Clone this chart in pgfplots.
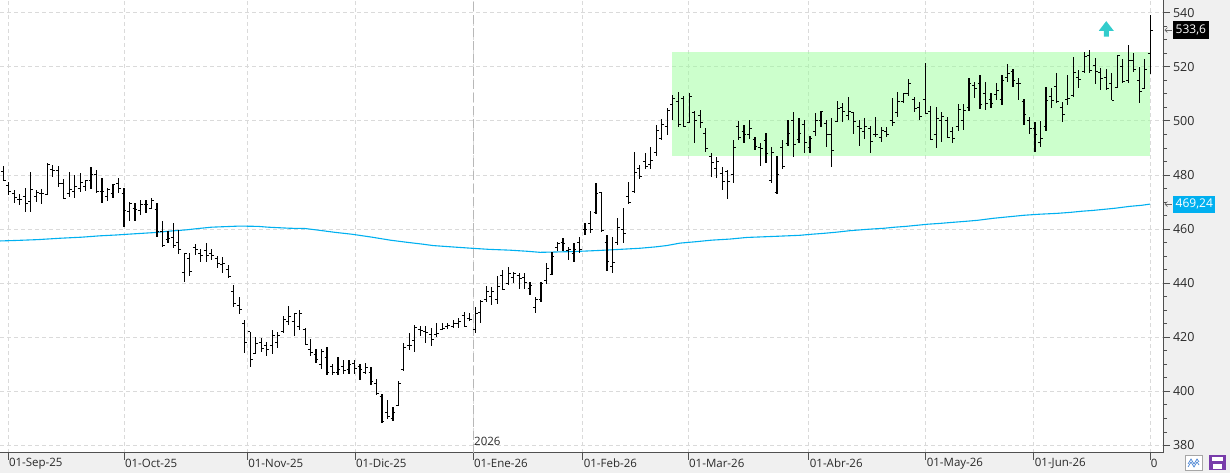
\documentclass[border=0pt]{standalone}
\usepackage{pgfplots}
\pgfplotsset{compat=1.18}
\usepackage{pgfplotstable}
\usepackage{fontspec}
\setmainfont{Open Sans}
\usetikzlibrary{arrows.meta}

\definecolor{macol}{HTML}{00B0F0}
\definecolor{rectg}{RGB}{153,255,153}
\definecolor{arrowcol}{HTML}{33CCCC}
\definecolor{panel}{HTML}{F0F0F0}
\definecolor{gridc}{HTML}{DADADA}
\definecolor{axc}{HTML}{505050}
\definecolor{txt}{HTML}{2A2A2A}

\pgfdeclareplotmark{ohlcC}{\pgfpathmoveto{\pgfqpoint{0pt}{0pt}}\pgfpathlineto{\pgfqpoint{2.4pt}{0pt}}\pgfusepathqstroke}
\pgfdeclareplotmark{ohlcO}{\pgfpathmoveto{\pgfqpoint{-2.4pt}{0pt}}\pgfpathlineto{\pgfqpoint{0pt}{0pt}}\pgfusepathqstroke}
\pgfdeclareplotmark{uparrow}{%
  \pgfpathmoveto{\pgfqpoint{-2.5pt}{-7.8pt}}%
  \pgfpathlineto{\pgfqpoint{2.5pt}{-7.8pt}}%
  \pgfpathlineto{\pgfqpoint{2.5pt}{-1.9pt}}%
  \pgfpathlineto{\pgfqpoint{7.5pt}{-1.9pt}}%
  \pgfpathlineto{\pgfqpoint{0pt}{7.8pt}}%
  \pgfpathlineto{\pgfqpoint{-7.5pt}{-1.9pt}}%
  \pgfpathlineto{\pgfqpoint{-2.5pt}{-1.9pt}}%
  \pgfpathclose\pgfusepathqfill}

\pgfplotstableread{
k o h l c
0 481.2 483.3 477.8 477.8
1 476.0 477.3 472.6 473.8
2 473.0 474.5 469.8 471.7
3 471.0 473.0 468.9 470.8
4 472.0 475.1 466.4 469.5
5 470.1 481.0 466.4 474.7
6 472.0 474.5 469.9 473.5
7 473.0 474.7 469.3 473.0
8 472.6 484.3 472.6 483.7
9 482.0 483.7 479.1 481.8
10 481.8 483.4 475.4 476.9
11 476.9 478.4 471.0 471.4
12 473.0 481.2 472.0 474.5
13 474.0 480.0 471.4 475.7
14 475.0 480.9 473.8 477.2
15 475.9 478.2 474.2 477.9
16 477.8 483.1 474.7 480.0
17 480.0 481.8 473.2 473.8
18 474.0 479.0 469.8 473.8
19 472.0 475.1 470.5 474.7
20 473.2 476.7 471.4 476.6
21 477.0 478.8 473.2 475.1
22 473.2 475.1 460.7 466.7
23 466.4 470.1 462.8 469.5
24 467.7 469.8 462.8 467.1
25 467.0 470.8 465.2 468.9
26 469.0 470.8 465.8 468.9
27 467.7 471.6 467.3 470.5
28 467.1 469.5 457.2 459.1
29 459.1 463.0 453.3 453.8
30 456.0 459.1 454.7 456.6
31 457.0 462.4 452.9 454.1
32 455.0 459.7 450.8 452.3
33 444.0 451.3 440.6 451.1
34 449.0 451.1 442.7 444.3
35 453.0 454.5 450.4 452.3
36 451.0 452.5 448.0 450.1
37 452.0 455.0 448.0 450.1
38 451.0 452.5 448.6 450.1
39 449.0 450.2 445.5 447.4
40 447.0 449.8 443.9 447.4
41 445.1 446.7 441.8 442.4
42 437.0 439.3 431.1 432.3
43 431.6 435.0 428.5 430.1
44 425.0 426.4 414.3 418.2
45 422.0 422.1 408.9 411.9
46 414.0 420.2 413.7 417.8
47 418.0 419.6 414.7 416.0
48 417.0 418.4 413.1 415.3
49 416.9 422.7 413.7 420.5
50 418.0 422.1 415.9 420.5
51 422.0 427.9 421.7 426.4
52 426.0 431.4 424.4 427.6
53 425.8 428.9 420.5 428.6
54 424.0 430.1 422.7 428.6
55 423.0 423.3 417.2 417.5
56 415.3 419.3 413.1 414.3
57 413.8 415.6 410.4 411.9
58 410.0 415.6 408.2 414.7
59 412.6 416.3 406.1 407.0
60 409.0 410.1 406.1 407.0
61 407.0 412.6 406.1 408.0
62 409.0 411.6 406.5 407.7
63 408.0 411.6 406.5 409.8
64 410.4 411.6 406.5 408.5
65 409.0 410.1 404.2 408.2
66 407.0 410.6 406.5 408.9
67 407.0 408.9 402.4 403.6
68 403.0 404.5 398.7 399.3
69 398.0 399.1 388.5 388.8
70 392.0 396.8 389.7 390.7
71 390.0 394.1 388.9 392.2
72 394.6 404.0 394.4 403.0
73 407.9 417.8 407.7 416.3
74 417.0 421.5 415.1 416.8
75 418.8 424.6 414.7 423.7
76 423.0 424.2 420.5 422.5
77 422.0 424.2 418.0 421.7
78 421.0 423.3 416.8 419.0
79 421.0 425.4 420.0 421.5
80 423.0 425.2 422.7 423.3
81 424.0 425.4 423.0 424.2
82 424.0 426.2 423.3 424.9
83 425.0 427.0 423.3 425.8
84 428.0 429.5 423.9 424.0
85 427.0 429.1 426.0 426.4
86 423.0 431.1 421.7 428.9
87 429.0 433.6 425.4 433.2
88 433.8 439.0 433.2 436.9
89 435.0 438.7 432.0 436.9
90 434.0 442.7 432.3 438.7
91 443.0 444.9 437.5 437.7
92 440.0 446.1 439.3 443.7
93 442.0 444.3 440.0 443.4
94 443.0 443.7 437.7 441.8
95 442.0 443.7 437.7 440.2
96 438.0 440.6 435.6 439.3
97 431.0 434.8 428.9 434.0
98 434.0 440.6 433.2 440.0
99 441.0 447.3 439.7 445.5
100 443.3 451.7 443.0 450.0
101 453.0 455.4 452.0 454.8
102 455.0 456.6 452.0 454.8
103 452.0 453.5 448.6 452.3
104 451.0 455.0 448.0 452.3
105 455.0 457.2 451.3 452.5
106 460.0 462.1 457.8 459.7
107 462.0 466.5 458.4 459.7
108 466.0 477.2 465.6 473.2
109 473.5 473.8 459.1 459.4
110 455.0 457.8 444.6 448.0
111 446.0 457.2 443.9 447.7
112 455.0 464.0 454.1 460.7
113 460.0 467.7 455.0 458.4
114 472.0 477.5 469.3 469.8
115 473.8 488.6 473.2 481.0
116 482.5 483.7 478.4 479.4
117 485.0 488.0 482.1 483.1
118 484.0 490.5 482.1 485.5
119 488.3 498.5 487.0 496.6
120 493.5 500.6 492.9 498.5
121 498.0 504.6 494.8 504.0
122 505.9 509.6 500.3 508.3
123 507.1 510.8 497.9 498.5
124 508.3 509.2 497.9 498.1
125 499.5 510.2 499.3 509.0
126 503.0 503.8 491.7 500.1
127 502.0 504.0 497.2 499.3
128 495.4 497.2 488.6 489.9
129 487.0 488.0 479.4 484.6
130 482.5 486.8 478.8 484.9
131 480.6 483.1 474.5 477.5
132 481.2 481.9 471.0 477.5
133 480.0 492.9 477.2 490.2
134 497.9 500.1 492.9 493.8
135 496.0 498.5 491.7 495.0
136 495.0 500.3 493.2 497.2
137 493.0 494.2 489.2 490.7
138 490.0 491.7 483.3 489.9
139 492.9 495.6 484.3 488.0
140 477.9 490.2 477.2 488.3
141 473.5 487.0 473.0 480.0
142 490.0 492.9 482.1 483.1
143 491.7 500.3 490.7 495.4
144 500.0 503.4 486.5 491.1
145 493.0 500.9 491.7 495.4
146 498.7 500.3 488.3 491.9
147 490.0 494.4 488.0 493.6
148 496.0 503.0 494.4 500.0
149 500.1 503.7 497.6 503.4
150 499.0 500.3 490.2 494.8
151 495.0 500.9 482.8 488.9
152 499.7 507.3 499.7 504.6
153 505.0 506.5 499.7 503.4
154 502.0 508.9 500.3 503.4
155 503.0 503.4 495.0 499.7
156 498.0 500.3 490.7 497.2
157 496.0 500.9 493.2 498.1
158 497.0 498.1 488.0 492.3
159 495.0 501.3 494.2 494.8
160 494.0 497.6 492.3 496.6
161 496.0 497.9 494.2 494.8
162 500.0 508.3 498.1 499.3
163 503.0 510.8 501.6 507.1
164 507.0 510.4 506.5 510.2
165 510.2 515.4 509.2 513.9
166 508.0 508.7 503.4 504.6
167 505.0 507.1 500.3 501.8
168 508.0 521.5 502.5 502.8
169 503.4 505.5 492.9 493.2
170 494.8 505.3 490.1 501.0
171 500.0 503.4 492.3 501.6
172 500.0 501.6 493.6 493.9
173 496.0 497.6 491.9 493.6
174 498.0 506.3 496.4 504.3
175 500.0 506.3 496.6 504.0
176 505.0 515.7 503.8 513.9
177 513.0 514.5 508.3 512.0
178 514.0 516.9 504.3 506.2
179 510.0 514.5 504.0 506.5
180 508.0 510.2 504.6 506.5
181 509.6 513.9 507.7 511.4
182 508.0 516.9 505.9 515.1
183 516.0 521.0 514.5 517.6
184 518.2 519.1 512.6 515.1
185 514.0 515.7 507.7 513.9
186 507.0 508.0 498.5 502.2
187 500.3 501.6 495.2 497.2
188 497.0 499.7 488.6 494.8
189 492.0 500.1 490.5 493.6
190 497.9 512.4 496.4 507.7
191 509.0 512.0 504.6 507.7
192 512.6 517.6 506.5 507.1
193 505.0 507.1 499.7 502.2
194 508.0 517.0 505.9 508.3
195 509.5 523.7 508.9 518.0
196 516.0 518.8 512.0 515.4
197 518.2 525.6 517.6 523.7
198 524.0 526.2 517.6 518.8
199 520.6 523.1 513.6 518.2
200 518.0 519.4 511.4 515.7
201 516.0 519.1 511.4 512.0
202 514.0 517.8 507.7 507.7
203 512.4 524.3 512.0 524.0
204 520.0 522.7 514.1 514.5
205 515.1 528.0 513.9 522.5
206 522.5 525.0 518.2 519.1
207 515.0 519.8 506.7 510.8
208 512.0 522.7 511.7 519.1
209 525.0 539.0 517.5 533.6
}\ohlc

\begin{document}
\begin{tikzpicture}
% side panels
\fill[panel] (1163pt,-20pt) rectangle (1230pt,453pt);
\fill[panel] (0pt,-20pt) rectangle (1163pt,0pt);
\begin{axis}[
  at={(0pt,0pt)}, anchor=south west,
  scale only axis, width=1163pt, height=453pt,
  xmin=-0.6, xmax=211.34, ymin=377.2, ymax=544.7,
  axis x line*=bottom, axis y line*=right,
  axis line style={axc, line width=1pt},
  clip=false,
  xtick={0.86,22.0,44.46,64.1,85.6,105.6,124.8,146.8,168.1,187.8,208.96},
  xticklabels={01-Sep-25,01-Oct-25,01-Nov-25,01-Dic-25,01-Ene-26,01-Feb-26,01-Mar-26,01-Abr-26,01-May-26,01-Jun-26,0},
  ytick={380,400,...,540},
  minor y tick num=3,
  tick align=outside,
  major tick length=7pt, minor tick length=4pt,
  tick style={axc, line width=0.8pt},
  xmajorgrids, ymajorgrids,
  major grid style={gridc, dash pattern=on 4pt off 3pt, line width=0.8pt},
  /pgf/number format/assume math mode=true,
  yticklabel style={anchor=west, font=\fontsize{12.5}{14}\selectfont, text=txt, xshift=-0.5pt},
  xticklabel style={anchor=west, font=\fontsize{11.5}{13}\selectfont, text=txt, xshift=-2.5pt, yshift=-3.5pt},
  extra x ticks={85.6},
  extra x tick labels={},
  extra x tick style={major grid style={draw=black!28, dash pattern=on 9pt off 4pt, line width=1pt}},
]
% green range box
\addplot[draw=none, fill=rectg, fill opacity=0.5] coordinates {(121.86,486.9) (208.96,486.9) (208.96,525.4) (121.86,525.4)} -- cycle;
% moving average
\addplot[macol, line width=1.1pt] coordinates {
(-0.6,455.6) (2.5,455.8) (6.3,456.1) (10.3,456.6) (14.3,457.0) (17.6,457.5) (20.5,457.8)
(23.5,458.2) (27.5,458.7) (30.7,459.3) (33.3,459.7) (35.5,460.2) (38.0,460.7) (43.0,461.1)
(46.4,461.0) (48.2,460.7) (52.2,460.3) (55.0,460.2) (57.4,459.6) (60.4,458.8) (63.5,458.1)
(67.2,457.0) (70.5,455.9) (73.6,455.1) (76.5,454.4) (78.3,453.9) (82.5,453.3) (85.4,452.9)
(88.5,452.5) (92.3,452.2) (95.4,451.8) (97.8,451.4) (100.2,451.5) (104.2,451.7) (108.7,452.1)
(112.4,452.5) (116.0,452.9) (118.8,453.4) (120.9,453.9) (123.3,454.8) (126.1,455.3) (129.1,455.9)
(132.4,456.3) (135.5,456.9) (140.6,457.3) (145.2,457.7) (147.4,458.1) (149.4,458.4) (151.6,458.8)
(154.3,459.4) (157.4,459.9) (160.5,460.3) (162.5,460.7) (164.5,461.0) (166.5,461.4) (168.5,461.8)
(170.7,462.1) (173.1,462.5) (175.6,462.9) (177.6,463.25) (180.5,464.0) (183.5,464.6) (186.0,465.1)
(188.9,465.5) (192.0,465.8) (194.6,466.2) (196.6,466.6) (198.6,466.9) (200.6,467.3) (202.6,467.7)
(205.3,468.4) (207.5,468.8) (209.0,469.24)};
% OHLC: high-low bars with close ticks
\addplot[black, only marks, mark=ohlcC, mark options={line width=1pt},
  error bars/.cd, y dir=both, y explicit, error mark=none,
  error bar style={line width=1.2pt, black}]
  table[x=k, y=c, y error plus expr=\thisrow{h}-\thisrow{c}, y error minus expr=\thisrow{c}-\thisrow{l}] {\ohlc};
% open ticks
\addplot[black, only marks, mark=ohlcO, mark options={line width=1pt}] table[x=k, y=o] {\ohlc};
% signal arrow
\addplot[only marks, mark=uparrow, mark options={draw=none, fill=arrowcol}] coordinates {(201.0,534.0)};
% year label
\node[anchor=west, font=\fontsize{11.5}{13}\selectfont, text=txt, inner sep=0pt, xshift=1pt] at (axis cs:85.6,381.6) {2026};
% last value labels
\node[fill=black, text=white, anchor=west, font=\fontsize{12}{14}\selectfont, inner xsep=2.5pt, inner ysep=0pt, minimum height=18pt, xshift=10pt] at (axis cs:211.34,533.6) {533,6};
\node[fill=macol, text=white, anchor=west, font=\fontsize{12}{14}\selectfont, inner xsep=2.5pt, inner ysep=0pt, minimum height=17pt, xshift=10pt] at (axis cs:211.34,469.24) {469,24};
\draw[black!60, line width=0.6pt, -{Straight Barb[length=2.5pt,width=5pt]}] ([xshift=8.5pt]axis cs:211.34,533.6) -- ([xshift=1.5pt]axis cs:211.34,533.6);
\draw[black!60, line width=0.6pt, -{Straight Barb[length=2.5pt,width=5pt]}] ([xshift=8.5pt]axis cs:211.34,469.24) -- ([xshift=1.5pt]axis cs:211.34,469.24);
\end{axis}
% bottom-right buttons
\filldraw[fill=white, draw=black!35, line width=0.6pt] (1185pt,-17pt) rectangle (1202pt,-2pt);
\draw[color={rgb,255:red,70;green,130;blue,210}, line width=0.7pt] (1188pt,-11pt) -- (1191pt,-6pt) -- (1194pt,-11pt) -- (1197pt,-6pt) -- (1199pt,-9pt);
\draw[color={rgb,255:red,70;green,130;blue,210}, line width=0.7pt] (1188pt,-14pt) -- (1191pt,-9pt) -- (1194pt,-14pt) -- (1197pt,-9pt) -- (1199pt,-12pt);
\fill[color={rgb,255:red,120;green,60;blue,170}] (1209pt,-17pt) rectangle (1226pt,-2pt);
\fill[white] (1212pt,-8pt) rectangle (1223pt,-4pt);
\fill[white] (1213pt,-16pt) rectangle (1222pt,-11pt);
\pgfresetboundingbox
\path[use as bounding box] (0pt,-20pt) rectangle (1230pt,453pt);
\end{tikzpicture}
\end{document}
